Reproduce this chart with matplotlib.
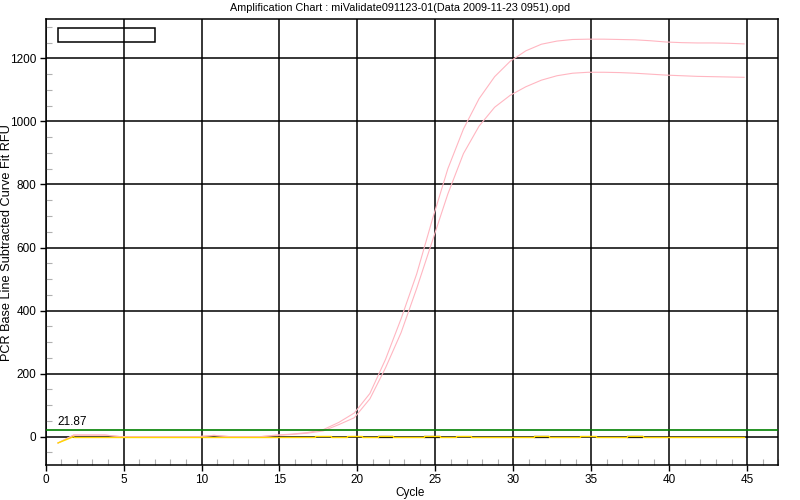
import numpy as np
import matplotlib
matplotlib.use("Agg")
import matplotlib.pyplot as plt
from matplotlib.ticker import MultipleLocator
from matplotlib.patches import Rectangle

plt.rcParams['font.family'] = ['Liberation Sans', 'DejaVu Sans']

title = "Amplification Chart : miValidate091123-01(Data 2009-11-23 0951).opd"
threshold = 21.87

# cycle numbers; the instrument draws each point 0.2 cycle early
cycles = np.arange(1, 46)
x_pos = cycles - 0.2

# two amplifying wells (RFU)
well_a = [-20, 5, 5, 5, 0, 0, 0, 0, 0, 0, 4, 0, 0, 0, 5, 8, 13, 22, 45, 75,
          137, 245, 374, 516, 688, 850, 976, 1072, 1142, 1191, 1224, 1245, 1255, 1260, 1261,
          1261, 1260, 1259, 1256, 1252, 1250, 1249, 1249, 1248, 1246]
well_b = [-20, 5, 5, 5, 0, 0, 0, 0, 0, 0, 4, 0, 0, 0, 4, 7, 11, 18, 38, 60,
          120, 218, 330, 470, 620, 770, 898, 985, 1045, 1083, 1110, 1131, 1145, 1153, 1156,
          1156, 1155, 1153, 1150, 1147, 1145, 1143, 1142, 1141, 1140]

# flat (negative) wells
flat_well = [-20, 0, 0, 0, 0, 0, 0, 0, 0, 0, 0, 0, 0, 0, 0, 0, 0, 3, 0, 3,
             0, 3, 0, 0, 3, 0, 3, 0, 0, 0, 0, 3, 0, 0, 3, 0, 0, 3, 0, 0,
             0, 0, 0, 0, 0]
dark_cycles = [22, 25, 32, 38]

fig = plt.figure(figsize=(8, 5), dpi=100)
ax = fig.add_axes([0.057, 0.07, 0.916, 0.892])

ax.plot(x_pos, well_a, color='#ffb6c1', lw=0.8, zorder=3)
ax.plot(x_pos, well_b, color='#ffb6c1', lw=0.8, zorder=3)

for c in dark_cycles:
    ax.hlines(0, c - 0.7, c + 0.3, color='black', lw=1.6, zorder=4)
ax.plot(x_pos[:2], flat_well[:2], color='#ffd700', lw=1.0, zorder=5)
ax.plot(x_pos[1:], flat_well[1:], color='#ffd700', lw=1.0, drawstyle='steps-mid', zorder=5)

ax.axhline(threshold, color='#008000', lw=1.2, zorder=6)
ax.text(0.75, threshold + 5, f"{threshold:.2f}", fontsize=8.5, ha='left', va='bottom')

ax.set_xlim(0, 47)
ax.set_ylim(-90, 1325)
ax.xaxis.set_major_locator(MultipleLocator(5))
ax.xaxis.set_minor_locator(MultipleLocator(1))
ax.yaxis.set_major_locator(MultipleLocator(200))
ax.yaxis.set_minor_locator(MultipleLocator(50))
ax.grid(True, which='major', color='black', lw=1.1)
ax.tick_params(which='major', direction='out', length=4.5, width=1, labelsize=8.5, pad=2)
ax.tick_params(which='minor', direction='in', length=4, width=0.8, color='#b0b0b0')
for s in ax.spines.values():
    s.set_linewidth(1.1)

# empty legend box
ax.add_patch(Rectangle((0.017, 0.948), 0.132, 0.031, transform=ax.transAxes,
                       fill=False, edgecolor='black', lw=1.1, zorder=7))

fig.text(0.5, 0.984, title, fontsize=7.8, ha='center', va='center')
fig.text(0.512, 0.014, "Cycle", fontsize=8.5, ha='center', va='center')
fig.text(0.009, 0.514, "PCR Base Line Subtracted Curve Fit RFU", fontsize=9.2,
         rotation=90, ha='center', va='center')

fig.savefig("out.png", dpi=100)
